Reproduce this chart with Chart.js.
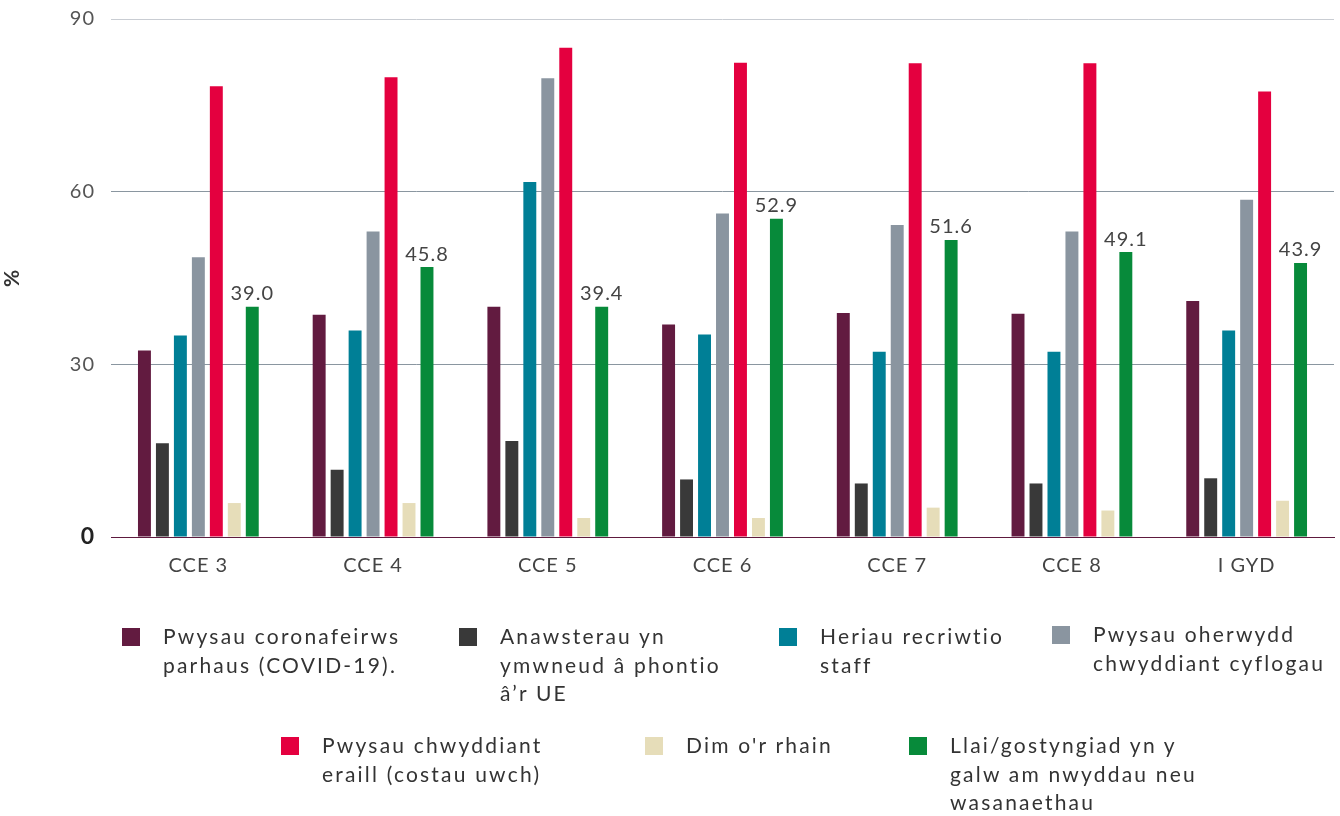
<!DOCTYPE html>
<html>
<head>
<meta charset="utf-8">
<script src="https://cdn.jsdelivr.net/npm/chart.js@4"></script>
<style>
  html, body { margin: 0; padding: 0; background: #fff; }
  body { width: 1340px; height: 816px; position: relative; overflow: hidden; font-family: Lato, "Noto Sans", sans-serif; }
  #wrap { position: absolute; left: 0; top: 0; width: 1340px; height: 587px; }
  #legend { position: absolute; left: 0; top: 0; width: 1340px; height: 816px; pointer-events: none; }
  .item { position: absolute; font-size: 21px; letter-spacing: 2.2px; line-height: 28.5px; color: #333; white-space: nowrap; }
  .box { position: absolute; width: 18px; height: 18px; left: -41px; top: 6px; }
</style>
</head>
<body>
<div id="wrap"><canvas id="chart"></canvas></div>
<div id="legend"></div>
<script>
var categories = ["CCE 3", "CCE 4", "CCE 5", "CCE 6", "CCE 7", "CCE 8", "I GYD"];

var covid      = [32.4, 38.6, 40.0, 36.9, 38.9, 38.8, 41.0];
var brexit     = [16.3, 11.7, 16.7, 10.0,  9.3,  9.3, 10.2];
var recruit    = [35.0, 35.9, 61.7, 35.2, 32.2, 32.2, 35.9];
var wages      = [48.6, 53.1, 79.7, 56.2, 54.2, 53.1, 58.6];
var otherCosts = [78.3, 79.9, 85.0, 82.4, 82.3, 82.3, 77.4];
var noneOf     = [ 5.9,  5.9,  3.3,  3.3,  5.1,  4.6,  6.3];
var demand     = [40.0, 46.9, 40.0, 55.3, 51.6, 49.5, 47.6];
// labels printed above the green bars
var demandLabels = ["39.0", "45.8", "39.4", "52.9", "51.6", "49.1", "43.9"];

var yTicks = [0, 30, 60, 90];

var seriesNames = [
  ["Pwysau coronafeirws", "parhaus (COVID-19)."],
  ["Anawsterau yn", "ymwneud â phontio", "â’r UE"],
  ["Heriau recriwtio", "staff"],
  ["Pwysau oherwydd", "chwyddiant cyflogau"],
  ["Pwysau chwyddiant", "eraill (costau uwch)"],
  ["Dim o'r rhain"],
  ["Llai/gostyngiad yn y", "galw am nwyddau neu", "wasanaethau"]
];
var seriesData = [covid, brexit, recruit, wages, otherCosts, noneOf, demand];
var colors = ['#621b40', '#393939', '#007f96', '#8a95a0', '#e4003f', '#e6ddb9', '#078a3a'];

// legend layout (text left edge, first line top)
var legendPos = [[163, 622], [500, 622], [820, 622], [1093, 620], [322, 731], [686, 731], [950, 731]];

var legend = document.getElementById('legend');
seriesNames.forEach(function(lines, i) {
  var d = document.createElement('div');
  d.className = 'item';
  d.style.left = legendPos[i][0] + 'px';
  d.style.top = legendPos[i][1] + 'px';
  d.innerHTML = '<span class="box" style="background:' + colors[i] + '"></span>' + lines.join('<br>');
  legend.appendChild(d);
});

// the original font is wide, so open up the canvas text a little
var spacing = {
  id: 'spacing',
  beforeInit: function(chart) { chart.ctx.letterSpacing = '1px'; },
  beforeDraw: function(chart) { chart.ctx.letterSpacing = '1px'; }
};

var barLabels = {
  id: 'barLabels',
  afterDatasetsDraw: function(chart) {
    var ctx = chart.ctx;
    var meta = chart.getDatasetMeta(6);
    ctx.save();
    ctx.letterSpacing = '1px';
    ctx.font = '20px Lato, "Noto Sans", sans-serif';
    ctx.fillStyle = '#444';
    ctx.textAlign = 'center';
    ctx.textBaseline = 'bottom';
    meta.data.forEach(function(bar, i) {
      ctx.fillText(demandLabels[i], bar.x, bar.y - 3);
    });
    ctx.restore();
  }
};

var ctx = document.getElementById('chart').getContext('2d');
var chart = new Chart(ctx, {
  type: 'bar',
  data: {
    labels: categories,
    datasets: seriesData.map(function(vals, i) {
      return {
        label: seriesNames[i].join(' '),
        data: vals,
        backgroundColor: colors[i],
        borderWidth: 0
      };
    })
  },
  options: {
    responsive: true,
    maintainAspectRatio: false,
    animation: false,
    layout: { padding: { top: 19, right: 6, left: 0, bottom: 0 } },
    barPercentage: 0.72,
    categoryPercentage: 0.72,
    scales: {
      x: {
        grid: { display: false },
        border: { display: true, color: '#5e1a3e', width: 1 },
        ticks: {
          color: '#444',
          padding: 9,
          maxRotation: 0,
          font: { family: 'Lato', size: 20 }
        }
      },
      y: {
        min: 0,
        max: 90,
        afterBuildTicks: function(scale) {
          scale.ticks = yTicks.map(function(v) { return { value: v }; });
        },
        afterFit: function(scale) {
          scale.width = 111;
          scale.paddingTop = 0;
          scale.paddingBottom = 0;
        },
        border: { display: false },
        grid: {
          drawTicks: false,
          color: function(c) {
            if (c.tick.value === 90) return '#c9cdd3';
            if (c.tick.value === 0) return '#5e1a3e';
            return '#8a96a0';
          }
        },
        ticks: {
          padding: 16,
          color: function(c) { return c.tick.value === 0 ? '#222' : '#555'; },
          font: function(c) {
            return c.tick && c.tick.value === 0
              ? { family: 'Lato', size: 23, weight: 'bold' }
              : { family: 'Lato', size: 20 };
          }
        },
        title: {
          display: true,
          text: '%',
          color: '#333',
          padding: { top: 0, bottom: 0 },
          font: { family: 'Lato', size: 21, weight: 'bold' }
        }
      }
    },
    plugins: {
      legend: { display: false },
      tooltip: { enabled: false }
    }
  },
  plugins: [spacing, barLabels]
});
</script>
</body>
</html>
